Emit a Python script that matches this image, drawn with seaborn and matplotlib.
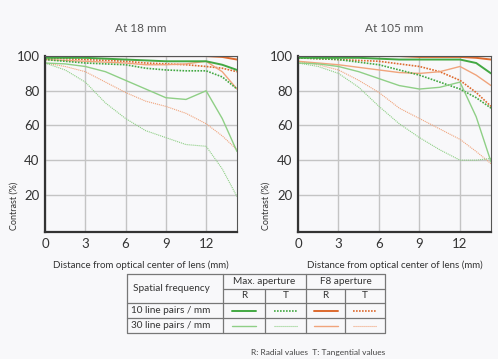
import numpy as np
import pandas as pd
import matplotlib
matplotlib.use('Agg')
import matplotlib.pyplot as plt
import seaborn as sns

sns.set_theme(style='whitegrid')
plt.rcParams['font.family'] = ['Lato', 'DejaVu Sans']

# distance from optical centre (mm)
dist = [0, 1.5, 3, 4.5, 6, 7.5, 9, 10.5, 12, 13.2, 14.3]

# At 18 mm
w_max10_r = [99, 99, 99, 98.5, 98, 97.5, 97, 97, 97, 95, 92]
w_max10_t = [98, 97, 96, 95.5, 95, 93, 92, 91.5, 91.5, 88, 81]
w_max30_r = [96, 95.5, 94, 91, 86, 81, 76, 75, 80, 64, 45]
w_max30_t = [96, 92, 85, 73, 64, 57, 53, 49, 48, 35, 19]
w_f810_r = [100, 100, 100, 100, 100, 100, 100, 100, 100, 99.5, 98]
w_f810_t = [99, 98.5, 98, 97.5, 97, 96, 95.5, 95, 94, 93, 91]
w_f830_r = [98, 97.5, 97, 96.5, 96, 95, 95, 95.5, 97, 91, 81]
w_f830_t = [96, 94, 91, 85, 79, 74, 71, 67, 61, 54, 46]

# At 105 mm
t_max10_r = [99, 99, 99, 99, 98.5, 98, 98, 98, 98, 96, 90]
t_max10_t = [99, 98.5, 98, 96.5, 95, 92, 89, 85, 81, 76, 70]
t_max30_r = [96, 95.5, 94, 91, 87, 83, 81, 82, 85, 65, 39]
t_max30_t = [96, 94, 90, 82, 71, 61, 53, 46, 40, 40, 41]
t_f810_r = [100, 100, 100, 100, 100, 100, 99.5, 99.5, 99.5, 99, 98]
t_f810_t = [99, 98.5, 98, 97.5, 97, 95.5, 94, 91, 86, 79, 71]
t_f830_r = [97, 96, 95, 93.5, 92, 90.5, 90, 91, 94, 89, 83]
t_f830_t = [97, 95, 92, 86, 79, 70, 64, 58, 52, 45, 38]

panels = [
    ('At 18 mm', [w_max10_r, w_max10_t, w_max30_r, w_max30_t,
                  w_f810_r, w_f810_t, w_f830_r, w_f830_t]),
    ('At 105 mm', [t_max10_r, t_max10_t, t_max30_r, t_max30_t,
                   t_f810_r, t_f810_t, t_f830_r, t_f830_t]),
]

green_d = '#43a843'
green_l = '#8fcf86'
orange_d = '#dd6a2e'
orange_l = '#f0a47c'
dot = (0, (1, 0.8))
# colour, linestyle, linewidth for each series in order
styles = [
    (green_d, '-', 1.4), (green_d, dot, 1.2),
    (green_l, '-', 1.0), (green_l, dot, 0.8),
    (orange_d, '-', 1.4), (orange_d, dot, 1.2),
    (orange_l, '-', 1.0), (orange_l, dot, 0.8),
]
# draw the orange ones first (they sit under the greens in the reference)
order = [4, 5, 6, 7, 0, 1, 2, 3]

bg = '#f8f8fa'
fig = plt.figure(figsize=(4.98, 3.59), dpi=100, facecolor=bg)
axes_pos = [[0.0904, 0.3538, 0.3855, 0.490], [0.5984, 0.3538, 0.3876, 0.490]]

for pos, (title, series) in zip(axes_pos, panels):
    ax = fig.add_axes(pos)
    ax.set_facecolor(bg)
    for i in order:
        c, ls, lw = styles[i]
        sns.lineplot(x=dist, y=series[i], ax=ax, color=c, linestyle=ls, linewidth=lw)
    ax.set_xlim(0, 14.3)
    ax.set_ylim(-1.4, 100)
    ax.set_xticks([0, 3, 6, 9, 12])
    ax.set_yticks([20, 40, 60, 80, 100])
    ax.grid(True, color='#c4c4c4', linewidth=1.0)
    ax.tick_params(length=0, labelsize=9.5, colors='#333333', pad=4)
    for side in ['left', 'bottom']:
        ax.spines[side].set_color('#333333')
        ax.spines[side].set_linewidth(1.6)
    for side in ['top', 'right']:
        ax.spines[side].set_color('#555555')
        ax.spines[side].set_linewidth(0.8)
    ax.set_title(title, fontsize=8.5, color='#555555', pad=17)
    ax.set_xlabel('Distance from optical center of lens (mm)', fontsize=7, color='#333333', labelpad=8)
    ax.set_ylabel('Contrast (%)', fontsize=6.5, color='#333333', labelpad=4)
    ax.yaxis.set_label_coords(-0.14, 0.15)

# legend table
W, H = 498, 359
tab = fig.add_axes([0, 0, 1, 1], facecolor='none')
tab.set_xlim(0, W)
tab.set_ylim(H, 0)
tab.axis('off')

cols = [127, 223, 265, 306, 345, 385]
rows = [274, 289, 303, 318, 333]
lc = '#777777'
tab.plot([cols[0], cols[-1], cols[-1], cols[0], cols[0]],
         [rows[0], rows[0], rows[-1], rows[-1], rows[0]], color=lc, lw=0.9)
tab.plot([cols[0], cols[-1]], [rows[2], rows[2]], color=lc, lw=0.9)
tab.plot([cols[0], cols[-1]], [rows[3], rows[3]], color=lc, lw=0.9)
tab.plot([cols[1], cols[-1]], [rows[1], rows[1]], color=lc, lw=0.9)
tab.plot([cols[1], cols[1]], [rows[0], rows[-1]], color=lc, lw=0.9)
tab.plot([cols[3], cols[3]], [rows[0], rows[-1]], color=lc, lw=0.9)
tab.plot([cols[2], cols[2]], [rows[1], rows[-1]], color=lc, lw=0.9)
tab.plot([cols[4], cols[4]], [rows[1], rows[-1]], color=lc, lw=0.9)

tc = '#333333'
fs = 7.2
tab.text(cols[0] + 6, (rows[0] + rows[2]) / 2, 'Spatial frequency', fontsize=fs, color=tc, va='center')
tab.text((cols[1] + cols[3]) / 2, (rows[0] + rows[1]) / 2, 'Max. aperture', fontsize=fs, color=tc, ha='center', va='center')
tab.text((cols[3] + cols[5]) / 2, (rows[0] + rows[1]) / 2, 'F8 aperture', fontsize=fs, color=tc, ha='center', va='center')
for k, lab in enumerate(['R', 'T', 'R', 'T']):
    tab.text((cols[1 + k] + cols[2 + k]) / 2, (rows[1] + rows[2]) / 2, lab, fontsize=fs, color=tc, ha='center', va='center')
tab.text(cols[0] + 4, (rows[2] + rows[3]) / 2, '10 line pairs / mm', fontsize=fs, color=tc, va='center')
tab.text(cols[0] + 4, (rows[3] + rows[4]) / 2, '30 line pairs / mm', fontsize=fs, color=tc, va='center')

# legend samples: row 10 lp uses series 0,1,4,5; row 30 lp uses 2,3,6,7
legend_rows = [[0, 1, 4, 5], [2, 3, 6, 7]]
for r, idxs in enumerate(legend_rows):
    y = (rows[2 + r] + rows[3 + r]) / 2
    for k, i in enumerate(idxs):
        c, ls, lw = styles[i]
        xc = (cols[1 + k] + cols[2 + k]) / 2
        tab.plot([xc - 12, xc + 12], [y, y], color=c, linestyle=ls, linewidth=lw)

tab.text(cols[-1], 352, 'R: Radial values  T: Tangential values', fontsize=6, color='#444444', ha='right', va='center')

fig.savefig('out.png', dpi=100, facecolor=bg)
